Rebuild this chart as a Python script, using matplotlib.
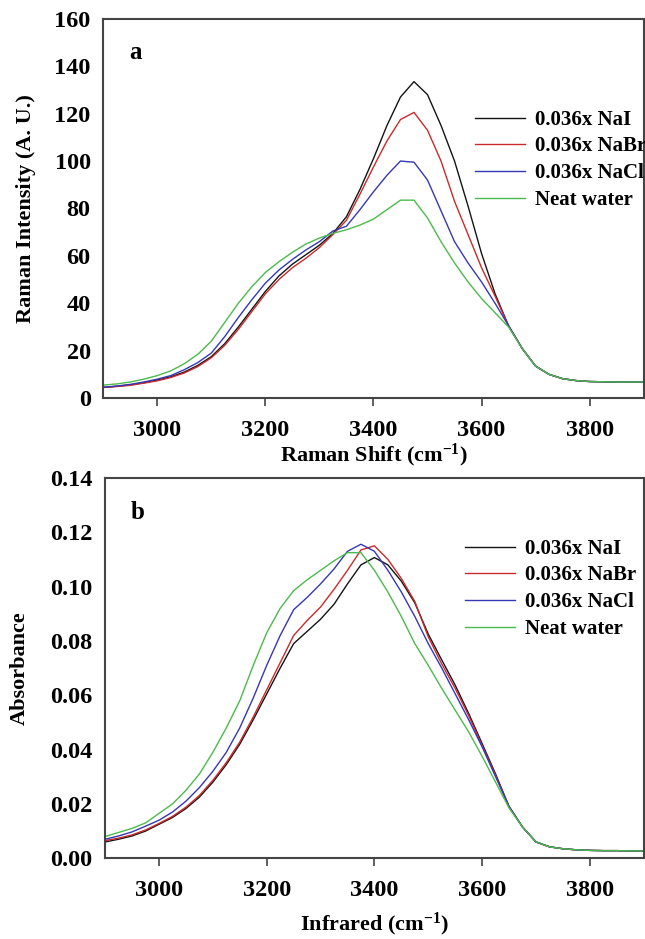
"""
Raman (a) and infrared (b) OH-stretch spectra of salt solutions
compared with neat water.
"""

import numpy as np
import matplotlib
matplotlib.use('Agg')
import matplotlib.pyplot as plt

plt.rcParams['font.family'] = 'Liberation Serif'
plt.rcParams['font.weight'] = 'bold'
plt.rcParams['axes.labelweight'] = 'bold'
plt.rcParams['mathtext.fontset'] = 'custom'
plt.rcParams['mathtext.rm'] = 'Liberation Serif:bold'
plt.rcParams['mathtext.default'] = 'rm'

#wavenumbers (cm-1), shared by both panels
wn = np.arange(2900, 3901, 25)

labels = ['0.036x NaI', '0.036x NaBr', '0.036x NaCl', 'Neat water']
colors = ['#141414', '#cc2a2a', '#3538b5', '#4cba4c']

#panel a - Raman intensity (A. U.)
raman_nai = [4.5, 5.0, 5.6, 6.5, 7.6, 9.0, 11.0, 13.8, 17.5, 23.0,
             30.0, 37.5, 45.0, 51.5, 56.5, 60.5, 64.5, 69.5, 76.5, 88.0,
             101.0, 115.0, 127.0, 133.5, 128.0, 115.0, 100.0, 81.0, 61.0, 44.0,
             30.5, 21.0, 13.5, 10.0, 8.2, 7.4, 7.0, 6.9, 6.8, 6.8, 6.8]
raman_nabr = [4.5, 4.9, 5.4, 6.3, 7.3, 8.7, 10.6, 13.3, 17.0, 22.3,
              29.0, 36.5, 44.0, 50.0, 55.0, 59.0, 63.5, 69.0, 75.0, 86.0,
              97.5, 108.5, 117.5, 120.5, 113.0, 100.0, 83.0, 69.0, 55.0, 43.0,
              30.5, 21.0, 13.5, 10.0, 8.2, 7.4, 7.0, 6.9, 6.8, 6.8, 6.8]
raman_nacl = [4.6, 5.1, 5.8, 6.8, 8.0, 9.5, 12.0, 15.0, 19.0, 26.0,
              34.0, 41.5, 48.5, 54.0, 58.5, 62.5, 66.0, 70.5, 72.5, 79.5,
              87.0, 94.0, 100.0, 99.5, 92.0, 79.0, 66.0, 57.0, 49.0, 40.0,
              30.5, 21.0, 13.5, 10.0, 8.2, 7.4, 7.0, 6.9, 6.8, 6.8, 6.8]
raman_water = [5.5, 6.0, 6.8, 8.0, 9.5, 11.5, 14.5, 18.5, 24.0, 32.0,
               40.0, 47.0, 53.0, 57.5, 61.5, 65.0, 67.5, 69.5, 71.0, 73.0,
               75.5, 79.5, 83.5, 83.5, 76.0, 66.0, 57.0, 49.0, 42.0, 36.0,
               30.0, 21.0, 13.5, 10.0, 8.2, 7.4, 7.0, 6.9, 6.8, 6.8, 6.8]

#panel b - IR absorbance
ir_nai = [0.0060, 0.0070, 0.0082, 0.0100, 0.0125, 0.0150, 0.0183, 0.0225, 0.0280, 0.0345,
          0.0420, 0.0510, 0.0605, 0.0700, 0.0790, 0.0835, 0.0880, 0.0935, 0.1010, 0.1080,
          0.1107, 0.1080, 0.1020, 0.0940, 0.0825, 0.0730, 0.0637, 0.0533, 0.0422, 0.0310,
          0.0190, 0.0115, 0.0060, 0.0042, 0.0035, 0.0031, 0.0029, 0.0028, 0.0028, 0.0027, 0.0027]
ir_nabr = [0.0065, 0.0074, 0.0086, 0.0104, 0.0128, 0.0154, 0.0188, 0.0231, 0.0287, 0.0352,
           0.0428, 0.0520, 0.0620, 0.0720, 0.0820, 0.0875, 0.0925, 0.0990, 0.1060, 0.1135,
           0.1150, 0.1100, 0.1030, 0.0945, 0.0815, 0.0715, 0.0625, 0.0525, 0.0415, 0.0305,
           0.0190, 0.0115, 0.0060, 0.0042, 0.0035, 0.0031, 0.0029, 0.0028, 0.0028, 0.0027, 0.0027]
ir_nacl = [0.0070, 0.0082, 0.0097, 0.0118, 0.0140, 0.0170, 0.0210, 0.0260, 0.0320, 0.0390,
           0.0480, 0.0590, 0.0710, 0.0820, 0.0915, 0.0960, 0.1010, 0.1065, 0.1130, 0.1156,
           0.1130, 0.1060, 0.0980, 0.0890, 0.0790, 0.0700, 0.0605, 0.0510, 0.0410, 0.0300,
           0.0190, 0.0115, 0.0060, 0.0042, 0.0035, 0.0031, 0.0029, 0.0028, 0.0028, 0.0027, 0.0027]
ir_water = [0.0080, 0.0095, 0.0110, 0.0130, 0.0165, 0.0200, 0.0250, 0.0310, 0.0390, 0.0480,
            0.0580, 0.0710, 0.0830, 0.0920, 0.0985, 0.1025, 0.1060, 0.1095, 0.1125, 0.1125,
            0.1060, 0.0980, 0.0890, 0.0790, 0.0710, 0.0625, 0.0545, 0.0465, 0.0375, 0.0280,
            0.0185, 0.0115, 0.0060, 0.0042, 0.0035, 0.0031, 0.0029, 0.0028, 0.0028, 0.0027, 0.0027]

raman = [raman_nai, raman_nabr, raman_nacl, raman_water]
ir = [ir_nai, ir_nabr, ir_nacl, ir_water]

fig = plt.figure(figsize=(6.45, 9.39), dpi=100)
ax1 = fig.add_axes([0.160, 0.576, 0.838, 0.404])
ax2 = fig.add_axes([0.163, 0.086, 0.835, 0.405])

for y, c, lab in zip(raman, colors, labels):
    ax1.plot(wn, y, color=c, lw=1.0, label=lab)
for y, c, lab in zip(ir, colors, labels):
    ax2.plot(wn, y, color=c, lw=1.0, label=lab)

#axes setup
ax1.set_xlim(2900, 3900)
ax1.set_ylim(0, 160)
ax1.set_yticks(np.arange(0, 161, 20))
ax2.set_xlim(2900, 3900)
ax2.set_ylim(0, 0.14)
ax2.set_yticks(np.arange(0, 0.141, 0.02))
ax2.yaxis.set_major_formatter(matplotlib.ticker.FormatStrFormatter('%.2f'))

for ax in (ax1, ax2):
    ax.set_xticks([3000, 3200, 3400, 3600, 3800])
    ax.tick_params(axis='x', direction='out', length=6, width=1.2, pad=10,
                   labelsize=17.5, color='#444444')
    ax.tick_params(axis='y', length=0, pad=9, labelsize=17.5)
    for s in ax.spines.values():
        s.set_color('#444444')
        s.set_linewidth(1.5)
    ax.legend(loc='upper left', frameon=False, fontsize=15,
              handlelength=2.4, handletextpad=0.5, labelspacing=0.32,
              borderpad=0, borderaxespad=0)

ax1.get_legend().set_bbox_to_anchor((0.688, 0.76))
ax2.get_legend().set_bbox_to_anchor((0.668, 0.84))

ax1.set_xlabel('Raman Shift (cm$^{-1}$)', fontsize=16, labelpad=0)
ax1.set_ylabel('Raman Intensity (A. U.)', fontsize=16, labelpad=13)
ax2.set_xlabel('Infrared (cm$^{-1}$)', fontsize=16, labelpad=7)
ax2.set_ylabel('Absorbance', fontsize=16, labelpad=15)

ax1.text(0.06, 0.91, 'a', transform=ax1.transAxes, fontsize=18, ha='center', va='center')
ax2.text(0.06, 0.91, 'b', transform=ax2.transAxes, fontsize=18, ha='center', va='center')

fig.savefig('out.png', dpi=100)
